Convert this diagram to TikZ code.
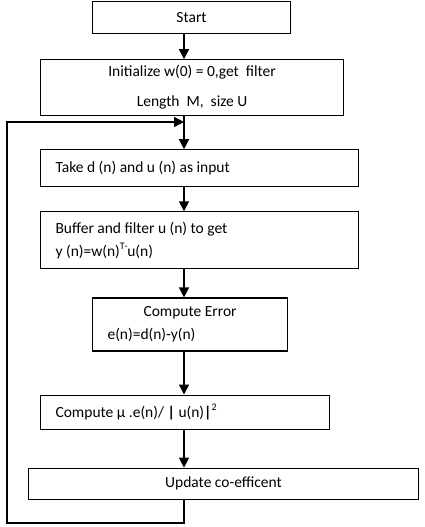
\documentclass[tikz,border=0pt]{standalone}
\usepackage{fontspec}
\setmainfont{Carlito}
\usetikzlibrary{arrows.meta, positioning}

\newcommand{\smallsup}[1]{\raisebox{7pt}{\fontsize{10}{10}\selectfont #1}}

\begin{document}
\begin{tikzpicture}[
    x=1pt, y=1pt,
    stepbox/.style={rectangle, draw=black, line width=1.1pt,
                inner xsep=15pt, inner ysep=0pt,
                font=\fontsize{15.5}{23}\selectfont, fill=white,
                execute at begin node={\spaceskip=0pt\xspaceskip=0pt}},
    arrow/.style={-{Triangle[length=10pt, width=10pt]}, line width=1.4pt}
]
\useasboundingbox (0,0) rectangle (425,-527);

\coordinate (spine) at (184,0);

%% START
\node[stepbox, anchor=north west, minimum width=198pt, minimum height=32pt] (start_box) at (92,-1) {%
    Start};

%% INITIALIZE
\node[stepbox, below=25pt of start_box.south west, anchor=north west, xshift=-52pt,
      minimum width=303pt, minimum height=56pt, align=center] (init_box) {%
    Initialize w(0) = 0,get\ \ filter\\[7pt]
    Length\ \ M,\ \ size U};

\draw[arrow] (start_box.south -| spine) -- (init_box.north -| spine);

%% INPUT
\node[stepbox, below=33pt of init_box.south west, anchor=north west,
      minimum width=318pt, minimum height=37pt, text width=288pt, align=left] (take_box) {%
    Take d (n) and u (n) as input};

\draw[arrow] (init_box.south -| spine) -- (take_box.north -| spine);

%% FILTER
\node[stepbox, below=24pt of take_box.south west, anchor=north west,
      minimum width=318pt, minimum height=57pt, text width=288pt, align=left] (buffer_box) {%
    Buffer and filter u (n) to get\\
    y (n)=w(n)\smallsup{T·}u(n)};

\draw[arrow] (take_box.south -| spine) -- (buffer_box.north -| spine);

%% ERROR
\node[stepbox, below=28pt of buffer_box.south west, anchor=north west, xshift=52pt,
      minimum width=195pt, minimum height=53pt, text width=165pt, align=left] (error_box) {%
    \hfill Compute Error\hfill\null\\
    e(n)=d(n)-y(n)};

\draw[arrow] (buffer_box.south -| spine) -- (error_box.north -| spine);

%% STEP SIZE
\node[stepbox, below=43pt of error_box.south west, anchor=north west, xshift=-52pt,
      minimum width=289pt, minimum height=34pt, text width=259pt, align=left] (mu_box) {%
    Compute µ .e(n)/ \textbf{|} u(n)\textbf{|}\smallsup{2}};

\draw[arrow] (error_box.south -| spine) -- (mu_box.north -| spine);

%% UPDATE
\node[stepbox, below=38pt of mu_box.south west, anchor=north west, xshift=-12pt,
      minimum width=390pt, minimum height=31pt] (update_box) {%
    Update co-efficent};

\draw[arrow] (mu_box.south -| spine) -- (update_box.north -| spine);

%% LOOP BACK
\coordinate (loop_bottom) at (184,-523);
\coordinate (loop_corner) at (7,-523);
\coordinate (merge) at (184,-122);

\draw[arrow] (update_box.south -| spine) -- (loop_bottom) -- (loop_corner)
    -- (loop_corner |- merge) -- (merge);

\end{tikzpicture}
\end{document}
